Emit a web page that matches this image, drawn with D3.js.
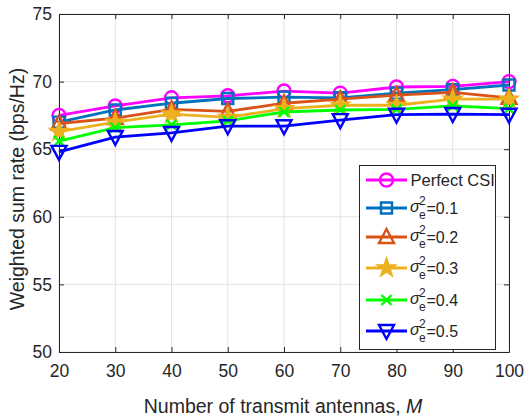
<!DOCTYPE html>
<html>
<head>
<meta charset="utf-8">
<script src="https://cdn.jsdelivr.net/npm/d3@7"></script>
<style>
  body { margin: 0; background: #fff; }
  svg text { font-family: "Liberation Sans", Arial, sans-serif; fill: #262626; }
</style>
</head>
<body>
<svg width="525" height="418"></svg>
<script>
const antennas = [20, 30, 40, 50, 60, 70, 80, 90, 100]
const perfectCSI = [67.5, 68.2, 68.8, 68.95, 69.3, 69.15, 69.6, 69.65, 70.0]
const sigma01 = [67.0, 67.9, 68.4, 68.75, 68.85, 68.8, 69.15, 69.4, 69.75]
const sigma02 = [66.9, 67.3, 67.95, 67.8, 68.4, 68.7, 69.0, 69.2, 68.8]
const sigma03 = [66.3, 67.0, 67.6, 67.35, 68.0, 68.25, 68.25, 68.7, 68.7]
const sigma04 = [65.6, 66.6, 66.8, 67.1, 67.75, 67.9, 67.95, 68.2, 68.0]
const sigma05 = [64.8, 65.9, 66.2, 66.7, 66.7, 67.15, 67.55, 67.6, 67.55]
const xTicks = [20, 30, 40, 50, 60, 70, 80, 90, 100]
const yTicks = [50, 55, 60, 65, 70, 75]

const series = [
    {name: 'Perfect CSI', sigma: null, values: perfectCSI, color: '#ff00ff', marker: 'circle'},
    {name: 's1', sigma: '0.1', values: sigma01, color: '#0072bd', marker: 'square'},
    {name: 's2', sigma: '0.2', values: sigma02, color: '#d95319', marker: 'triangle'},
    {name: 's3', sigma: '0.3', values: sigma03, color: '#edb120', marker: 'star'},
    {name: 's4', sigma: '0.4', values: sigma04, color: '#00ff00', marker: 'cross'},
    {name: 's5', sigma: '0.5', values: sigma05, color: '#0000ff', marker: 'triangleDown'}
]

const margin = {left: 59, right: 16, top: 14, bottom: 66}
const width = 525 - margin.left - margin.right
const height = 418 - margin.top - margin.bottom

const svg = d3.select('svg')
const g = svg.append('g').attr('transform', `translate(${margin.left},${margin.top})`)

const x = d3.scaleLinear().domain([20, 100]).range([0, width])
const y = d3.scaleLinear().domain([50, 75]).range([height, 0])

// grid
g.append('g').selectAll('line').data(xTicks).enter().append('line')
    .attr('x1', d => x(d)).attr('x2', d => x(d)).attr('y1', 0).attr('y2', height)
    .attr('stroke', '#e3e3e3').attr('stroke-width', 1)
g.append('g').selectAll('line').data(yTicks).enter().append('line')
    .attr('x1', 0).attr('x2', width).attr('y1', d => y(d)).attr('y2', d => y(d))
    .attr('stroke', '#e3e3e3').attr('stroke-width', 1)

// axes (ticks inward)
const xAxis = g.append('g').attr('transform', `translate(0,${height})`)
    .call(d3.axisBottom(x).tickValues(xTicks).tickSizeInner(-5).tickSizeOuter(0).tickPadding(13))
const xAxisTop = g.append('g')
    .call(d3.axisTop(x).tickValues(xTicks).tickSizeInner(-5).tickSizeOuter(0).tickFormat(''))
const yAxis = g.append('g')
    .call(d3.axisLeft(y).tickValues(yTicks).tickSizeInner(-5).tickSizeOuter(0).tickPadding(7))
const yAxisRight = g.append('g').attr('transform', `translate(${width},0)`)
    .call(d3.axisRight(y).tickValues(yTicks).tickSizeInner(-5).tickSizeOuter(0).tickFormat(''))

;[xAxis, xAxisTop, yAxis, yAxisRight].forEach(a => {
    a.select('.domain').attr('stroke', '#262626').attr('stroke-width', 1)
    a.selectAll('.tick line').attr('stroke', '#262626')
    a.selectAll('.tick text').attr('font-size', 17.5).attr('fill', '#262626')
        .style('font-family', '"Liberation Sans", Arial, sans-serif')
})

// markers
const markerPath = (type) => {
    if (type === 'square') return 'M-5.5,-5.5H5.5V5.5H-5.5Z'
    if (type === 'triangle') return 'M0,-8L7.5,6L-7.5,6Z'
    if (type === 'triangleDown') return 'M0,8L7.5,-6L-7.5,-6Z'
    if (type === 'cross') return 'M-5,-5L5,5M-5,5L5,-5'
    if (type === 'star') {
        let p = ''
        for (let i = 0; i < 10; i++) {
            const r = i % 2 === 0 ? 8.5 : 3.4
            const a = -Math.PI / 2 + i * Math.PI / 5
            p += (i === 0 ? 'M' : 'L') + (r * Math.cos(a)).toFixed(2) + ',' + (r * Math.sin(a)).toFixed(2)
        }
        return p + 'Z'
    }
    return d3.symbol().type(d3.symbolCircle).size(Math.PI * 6.5 * 6.5)()
}

const drawMarker = (sel, s) => {
    sel.append('path')
        .attr('d', markerPath(s.marker))
        .attr('fill', s.marker === 'star' ? s.color : 'none')
        .attr('stroke', s.color)
        .attr('stroke-width', 2.4)
        .attr('stroke-linejoin', 'miter')
}

const line = d3.line().x((d, i) => x(antennas[i])).y(d => y(d))

series.forEach(s => {
    const sg = g.append('g')
    sg.append('path')
        .datum(s.values)
        .attr('d', line)
        .attr('fill', 'none')
        .attr('stroke', s.color)
        .attr('stroke-width', 2.8)
    s.values.forEach((v, i) => {
        const m = sg.append('g').attr('transform', `translate(${x(antennas[i])},${y(v)})`)
        drawMarker(m, s)
    })
})

// legend
const legend = svg.append('g')
legend.append('rect')
    .attr('x', 359.5).attr('y', 165.5).attr('width', 136).attr('height', 184)
    .attr('fill', '#fff').attr('stroke', '#262626').attr('stroke-width', 1)
const rowY = [180, 208, 237, 268, 300, 331]
series.forEach((s, i) => {
    const ly = rowY[i]
    legend.append('line')
        .attr('x1', 366).attr('x2', 407).attr('y1', ly).attr('y2', ly)
        .attr('stroke', s.color).attr('stroke-width', 2.8)
    drawMarker(legend.append('g').attr('transform', `translate(386.5,${ly})`), s)
    if (s.sigma === null) {
        legend.append('text').attr('x', 410.5).attr('y', ly + 6)
            .attr('font-size', 16.5).text(s.name)
    } else {
        legend.append('text').attr('x', 410).attr('y', ly + 3.5)
            .attr('font-size', 16).attr('font-style', 'italic').text('σ')
        legend.append('text').attr('x', 419).attr('y', ly - 3)
            .attr('font-size', 12).text('2')
        legend.append('text').attr('x', 419).attr('y', ly + 10.5)
            .attr('font-size', 12).text('e')
        legend.append('text').attr('x', 426.5).attr('y', ly + 6)
            .attr('font-size', 16).text('=' + s.sigma)
    }
})

// axis labels
const xLabel = svg.append('text')
    .attr('x', margin.left + width / 2 - 1).attr('y', 413)
    .attr('text-anchor', 'middle').attr('font-size', 19.5)
xLabel.append('tspan').text('Number of transmit antennas, ')
xLabel.append('tspan').attr('font-style', 'italic').text('M')

svg.append('text')
    .attr('transform', `translate(24,${margin.top + height / 2 + 6}) rotate(-90)`)
    .attr('text-anchor', 'middle').attr('font-size', 19.5)
    .text('Weighted sum rate (bps/Hz)')
</script>
</body>
</html>
